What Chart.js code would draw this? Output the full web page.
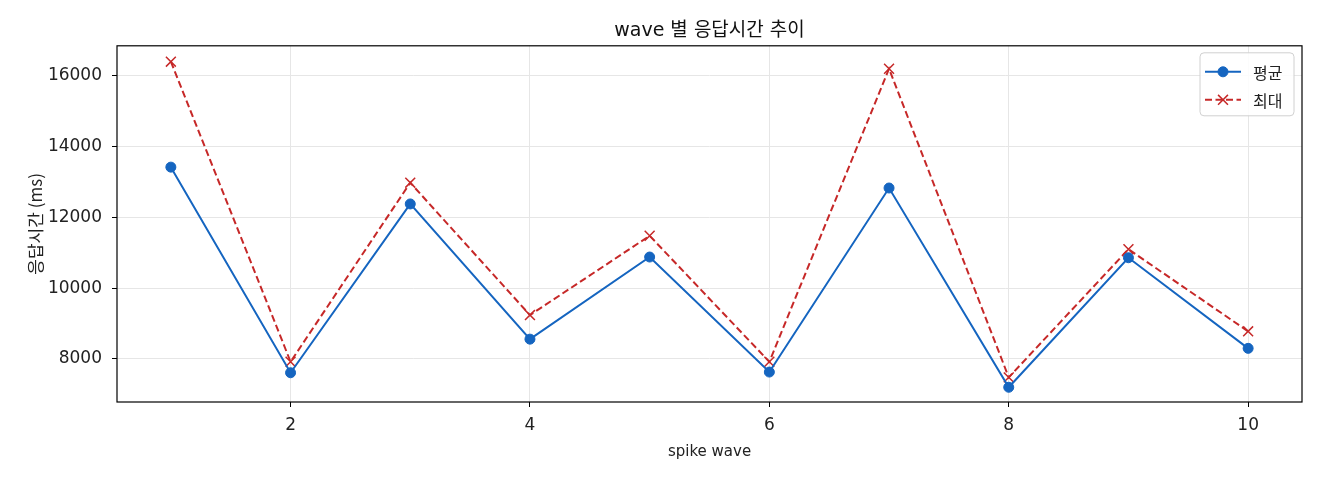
<!DOCTYPE html>
<html>
<head>
<meta charset="utf-8">
<script src="https://cdn.jsdelivr.net/npm/chart.js@4/dist/chart.umd.min.js"></script>
<style>
  html, body { margin:0; padding:0; background:#fff; }
  #wrap { width:1320px; height:480px; }
</style>
</head>
<body>
<div id="wrap"><canvas id="chart"></canvas></div>
<script>
// data
const WAVES = [1, 2, 3, 4, 5, 6, 7, 8, 9, 10];
const AVG_MS = [13420, 7610, 12380, 8560, 10880, 7630, 12830, 7200, 10860, 8300];
const MAX_MS = [16400, 7920, 12980, 9240, 11480, 7920, 16200, 7480, 11100, 8780];
const X_TICKS = [2, 4, 6, 8, 10];
const Y_TICKS = [8000, 10000, 12000, 14000, 16000];

const BLUE = '#1565c0', RED = '#c62828';
const LATIN = "'DejaVu Sans', 'Noto Sans CJK KR', sans-serif";
const KR = "'Noto Sans CJK KR', 'DejaVu Sans', sans-serif";

// plot frame on all four sides
const framePlugin = {
  id:'frame',
  afterDraw(chart){
    const {ctx, chartArea:a} = chart;
    ctx.save();
    ctx.strokeStyle = '#000'; ctx.lineWidth = 1.2;
    ctx.strokeRect(a.left, a.top, a.right-a.left, a.bottom-a.top);
    ctx.restore();
  }
};

// matplotlib style legend inside the upper right corner
const boxLegend = {
  id:'boxLegend',
  afterDraw(chart){
    const {ctx, chartArea:a} = chart;
    const w = 94, h = 63, x0 = a.right - 8 - w, y0 = a.top + 7;
    ctx.save();
    ctx.beginPath();
    ctx.roundRect(x0, y0, w, h, 4);
    ctx.fillStyle = 'rgba(255,255,255,0.85)'; ctx.fill();
    ctx.strokeStyle = '#d0d0d0'; ctx.lineWidth = 1; ctx.stroke();
    chart.data.datasets.forEach((ds, i)=>{
      const y = y0 + 19 + i*28;
      ctx.strokeStyle = ds.borderColor; ctx.lineWidth = ds.borderWidth;
      ctx.setLineDash(ds.borderDash || []);
      ctx.beginPath(); ctx.moveTo(x0+5, y); ctx.lineTo(x0+41, y); ctx.stroke();
      ctx.setLineDash([]);
      ctx.fillStyle = ds.pointBackgroundColor; ctx.strokeStyle = ds.pointBorderColor;
      ctx.lineWidth = ds.pointBorderWidth;
      Chart.helpers.drawPoint(ctx, {pointStyle:ds.pointStyle, radius:ds.pointRadius, rotation:0, borderWidth:ds.pointBorderWidth}, x0+23, y);
      ctx.fillStyle = '#222'; ctx.font = "16px " + KR;
      ctx.textBaseline = 'middle'; ctx.textAlign = 'left';
      ctx.fillText(ds.label, x0+53, y+1);
    });
    ctx.restore();
  }
};

const toXY = arr => WAVES.map((w, i)=>({x:w, y:arr[i]}));

new Chart(document.getElementById('chart'), {
  type:'line',
  data:{
    datasets:[
      { label:'평균', data:toXY(AVG_MS), borderColor:BLUE, borderWidth:2,
        pointStyle:'circle', pointRadius:5, pointBorderWidth:1,
        pointBackgroundColor:BLUE, pointBorderColor:BLUE, tension:0 },
      { label:'최대', data:toXY(MAX_MS), borderColor:RED, borderWidth:2, borderDash:[7,3.5],
        pointStyle:'crossRot', pointRadius:7, pointBorderWidth:1.5,
        pointBackgroundColor:RED, pointBorderColor:RED, tension:0 }
    ]
  },
  options:{
    responsive:true, maintainAspectRatio:false, animation:false, devicePixelRatio:1,
    layout:{ padding:{ top:0, right:18, bottom:0, left:0 } },
    plugins:{
      legend:{ display:false },
      tooltip:{ enabled:false },
      title:{ display:true, fullSize:false, text:'wave 별 응답시간 추이', color:'#111',
        font:{ family:LATIN, size:19, weight:'normal' }, padding:{ top:20, bottom:3 } }
    },
    scales:{
      x:{
        type:'linear', min:0.55, max:10.45,
        afterBuildTicks: s => { s.ticks = X_TICKS.map(v=>({value:v})); },
        afterFit: s => { s.height = 78; },
        grid:{ color:'#e6e6e6', lineWidth:1, tickColor:'#000', tickLength:5 },
        border:{ display:false },
        ticks:{ color:'#222', padding:8, font:{ family:LATIN, size:17 } },
        title:{ display:true, text:'spike wave', color:'#222', font:{ family:LATIN, size:15 }, padding:{ top:0, bottom:19 } }
      },
      y:{
        min:6784, max:16848,
        afterBuildTicks: s => { s.ticks = Y_TICKS.map(v=>({value:v})); },
        afterFit: s => { s.width = 117; },
        grid:{ color:'#e6e6e6', lineWidth:1, tickColor:'#000', tickLength:5 },
        border:{ display:false },
        ticks:{ color:'#222', padding:10, font:{ family:LATIN, size:17 }, callback: v => String(v) },
        title:{ display:true, text:'응답시간 (ms)', color:'#222', font:{ family:KR, size:17 }, padding:{ top:25, bottom:0 } }
      }
    }
  },
  plugins:[framePlugin, boxLegend]
});
</script>
</body>
</html>
